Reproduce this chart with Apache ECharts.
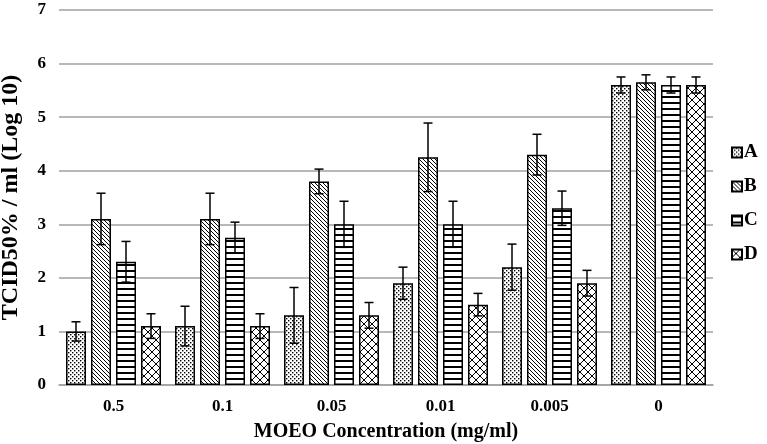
<!DOCTYPE html>
<html>
<head>
<meta charset="utf-8">
<script src="https://cdn.jsdelivr.net/npm/echarts@6/dist/echarts.min.js"></script>
<style>html,body{margin:0;padding:0;background:#fff}#c{width:767px;height:444px}</style>
</head>
<body>
<div id="c"></div>
<script>
const categories = ['0.5', '0.1', '0.05', '0.01', '0.005', '0'];
const seriesNames = ['A', 'B', 'C', 'D'];
const valuesA = [1.0, 1.1, 1.3, 1.9, 2.2, 5.6];
const valuesB = [3.1, 3.1, 3.8, 4.25, 4.3, 5.65];
const valuesC = [2.3, 2.75, 3.0, 3.0, 3.3, 5.6];
const valuesD = [1.1, 1.1, 1.3, 1.5, 1.9, 5.6];
const errA = [0.18, 0.37, 0.52, 0.30, 0.43, 0.15];
const errB = [0.48, 0.48, 0.23, 0.64, 0.38, 0.14];
const errC = [0.38, 0.29, 0.43, 0.43, 0.32, 0.15];
const errD = [0.23, 0.23, 0.24, 0.21, 0.24, 0.15];
const yTicks = [0, 1, 2, 3, 4, 5, 6, 7];

const FONT = '"Liberation Serif", "Times New Roman", serif';
const BAR_W = 20, BAR_GAP = 5;

function makeCanvas(w, h, draw) {
  const c = document.createElement('canvas');
  c.width = w; c.height = h;
  const ctx = c.getContext('2d');
  ctx.fillStyle = '#fff'; ctx.fillRect(0, 0, w, h);
  ctx.fillStyle = '#000'; ctx.strokeStyle = '#000';
  draw(ctx, w, h);
  return c;
}
const patA = makeCanvas(4, 4, (ctx) => {
  ctx.fillStyle = '#000';
  ctx.fillRect(0, 0, 1.4, 1.4);
  ctx.fillRect(2, 2, 1.4, 1.4);
});
const patB = makeCanvas(4, 4, (ctx, w, h) => {
  ctx.lineWidth = 1;
  ctx.beginPath();
  ctx.moveTo(-1, -1); ctx.lineTo(w + 1, h + 1);
  ctx.moveTo(-1, h - 1); ctx.lineTo(1, h + 1);
  ctx.moveTo(w - 1, -1); ctx.lineTo(w + 1, 1);
  ctx.stroke();
});
const patC = makeCanvas(6, 6, (ctx) => {
  ctx.fillRect(0, 0, 6, 2);
});
const patD = makeCanvas(8, 8, (ctx, w, h) => {
  ctx.lineWidth = 1;
  ctx.beginPath();
  ctx.moveTo(0, 0); ctx.lineTo(w, h);
  ctx.moveTo(w, 0); ctx.lineTo(0, h);
  ctx.stroke();
});

const values = [valuesA, valuesB, valuesC, valuesD];
const errs = [errA, errB, errC, errD];
const pats = [patA, patB, patC, patD];

const series = [];
seriesNames.forEach((name, i) => {
  series.push({
    name: name,
    type: 'bar',
    data: values[i],
    barWidth: BAR_W,
    barGap: (BAR_GAP / BAR_W * 100) + '%',
    itemStyle: {
      color: { image: pats[i], repeat: 'repeat' },
      borderColor: '#000',
      borderWidth: 1.5
    },
    z: 2
  });
});
seriesNames.forEach((name, i) => {
  const offset = (i - 1.5) * (BAR_W + BAR_GAP);
  series.push({
    type: 'custom',
    name: name + ' err',
    data: values[i].map((v, k) => [k, v - errs[i][k], v + errs[i][k]]),
    encode: { x: 0, y: [1, 2] },
    z: 5,
    silent: true,
    renderItem: function (params, api) {
      const lo = api.coord([api.value(0), api.value(1)]);
      const hi = api.coord([api.value(0), api.value(2)]);
      const x = lo[0] + offset;
      const cap = 4.5;
      const style = { stroke: '#000', lineWidth: 1.5 };
      return {
        type: 'group',
        children: [
          { type: 'line', shape: { x1: x, y1: lo[1], x2: x, y2: hi[1] }, style: style },
          { type: 'line', shape: { x1: x - cap, y1: hi[1], x2: x + cap, y2: hi[1] }, style: style },
          { type: 'line', shape: { x1: x - cap, y1: lo[1], x2: x + cap, y2: lo[1] }, style: style }
        ]
      };
    }
  });
});

const chart = echarts.init(document.getElementById('c'));
chart.setOption({
  animation: false,
  backgroundColor: '#fff',
  textStyle: { fontFamily: FONT },
  grid: { left: 59, right: 54, top: 10, bottom: 59, containLabel: false, outerBoundsMode: 'none' },
  legend: {
    data: seriesNames,
    orient: 'vertical',
    left: 731,
    top: 143,
    padding: 0,
    icon: 'rect',
    itemWidth: 10,
    itemHeight: 10,
    itemGap: 15,
    textStyle: { fontFamily: FONT, fontWeight: 'bold', fontSize: 19, color: '#000', padding: [0, 0, 0, -3] }
  },
  xAxis: {
    type: 'category',
    data: categories,
    axisTick: { show: false },
    axisLine: { lineStyle: { color: '#a0a0a0', width: 1.5 } },
    axisLabel: { color: '#000', fontFamily: FONT, fontWeight: 'bold', fontSize: 17, margin: 13 },
    name: 'MOEO Concentration (mg/ml)',
    nameLocation: 'middle',
    nameGap: 37,
    nameTextStyle: { color: '#000', fontFamily: FONT, fontWeight: 'bold', fontSize: 20 }
  },
  yAxis: {
    type: 'value',
    min: yTicks[0],
    max: yTicks[yTicks.length - 1],
    interval: 1,
    axisLine: { show: false },
    axisTick: { show: false },
    splitLine: { lineStyle: { color: '#a0a0a0', width: 1.5 } },
    axisLabel: { color: '#000', fontFamily: FONT, fontWeight: 'bold', fontSize: 17, margin: 13 },
    name: 'TCID50% / ml (Log 10)',
    nameLocation: 'middle',
    nameGap: 36,
    nameTextStyle: { color: '#000', fontFamily: FONT, fontWeight: 'bold', fontSize: 24 }
  },
  series: series
});
</script>
</body>
</html>
